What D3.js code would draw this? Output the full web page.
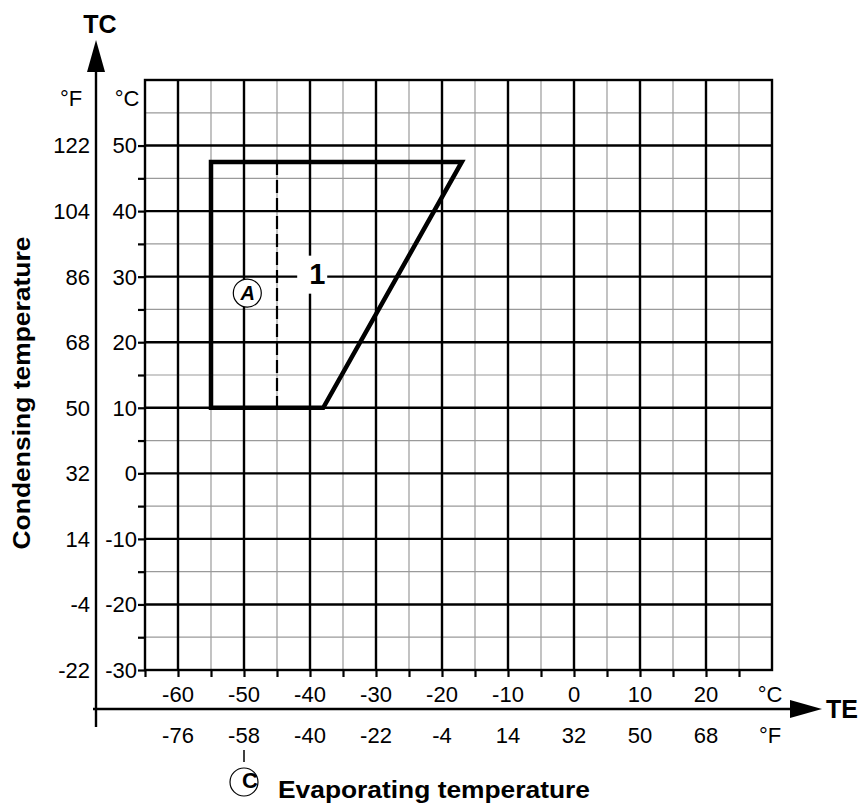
<!DOCTYPE html>
<html>
<head>
<meta charset="utf-8">
<script src="https://cdn.jsdelivr.net/npm/d3@7"></script>
<style>
  html, body { margin: 0; padding: 0; background: #fff; }
  svg { display: block; font-family: "Liberation Sans", Arial, Helvetica, sans-serif; }
</style>
</head>
<body>
<svg id="chart" width="865" height="807"></svg>
<script>
// Operating envelope: condensing vs evaporating temperature (°C)
const teDomain = [-65, 30];
const tcDomain = [-30, 60];

const teTicksC = [-60, -50, -40, -30, -20, -10, 0, 10, 20];
const teTicksF = ["-76", "-58", "-40", "-22", "-4", "14", "32", "50", "68"];
const tcTicksC = [-30, -20, -10, 0, 10, 20, 30, 40, 50];
const tcTicksF = ["-22", "-4", "14", "32", "50", "68", "86", "104", "122"];

// Envelope outline [TE, TC]
const envelope = [[-55, 47.5], [-17, 47.5], [-38, 10], [-55, 10]];
// Dashed limit A at TE = -45
const limitA = [[-45, 47.5], [-45, 10]];
const regionLabel = { text: "1", te: -38, tc: 30 };
const markerA = { te: -49.5, tc: 27.5 };

const svg = d3.select("#chart");
const x = d3.scaleLinear().domain(teDomain).range([145, 772]);
const y = d3.scaleLinear().domain(tcDomain).range([670, 80]);

const gGrid = svg.append("g");
const minorX = d3.range(-60, 30, 5).filter(v => v % 10 !== 0);
const majorX = d3.range(-60, 30, 10);
const minorY = d3.range(-25, 60, 5).filter(v => v % 10 !== 0);
const majorY = d3.range(-20, 60, 10);

// minor grid
gGrid.selectAll(".mx").data(minorX).join("line")
  .attr("x1", d => x(d)).attr("x2", d => x(d)).attr("y1", y(60)).attr("y2", y(-30))
  .attr("stroke", "#9a9a9a").attr("stroke-width", 1.2);
gGrid.selectAll(".my").data(minorY).join("line")
  .attr("x1", x(-65)).attr("x2", x(30)).attr("y1", d => y(d)).attr("y2", d => y(d))
  .attr("stroke", "#9a9a9a").attr("stroke-width", 1.2);
// major grid
gGrid.selectAll(".Mx").data(majorX).join("line")
  .attr("x1", d => x(d)).attr("x2", d => x(d)).attr("y1", y(60)).attr("y2", y(-30))
  .attr("stroke", "#000").attr("stroke-width", 2.4);
gGrid.selectAll(".My").data(majorY).join("line")
  .attr("x1", x(-65)).attr("x2", x(30)).attr("y1", d => y(d)).attr("y2", d => y(d))
  .attr("stroke", "#000").attr("stroke-width", 2.4);
// frame
gGrid.append("rect")
  .attr("x", x(-65)).attr("y", y(60))
  .attr("width", x(30) - x(-65)).attr("height", y(-30) - y(60))
  .attr("fill", "none").attr("stroke", "#000").attr("stroke-width", 2.4);

// axis ticks (every 5 °C)
const leftAxis = d3.axisLeft(y).tickValues(d3.range(-30, 51, 5)).tickSize(7).tickFormat("");
const gl = svg.append("g").attr("transform", `translate(${x(-65)},0)`).call(leftAxis);
const bottomAxis = d3.axisBottom(x).tickValues(d3.range(-65, 26, 5)).tickSize(7).tickFormat("");
const gb = svg.append("g").attr("transform", `translate(0,${y(-30)})`).call(bottomAxis);
[gl, gb].forEach(g => {
  g.select(".domain").remove();
  g.selectAll(".tick line").attr("stroke", "#000").attr("stroke-width", 2.2);
});

// tick labels
const lab = svg.append("g").attr("font-size", 22).attr("fill", "#000");
lab.selectAll(".yc").data(tcTicksC).join("text")
  .attr("x", 137).attr("y", d => y(d)).attr("dy", "0.36em")
  .attr("text-anchor", "end").text(d => d);
lab.selectAll(".yf").data(tcTicksF).join("text")
  .attr("x", 90).attr("y", (d, i) => y(tcTicksC[i])).attr("dy", "0.36em")
  .attr("text-anchor", "end").text(d => d);
lab.selectAll(".xc").data(teTicksC).join("text")
  .attr("x", d => x(d)).attr("y", 702)
  .attr("text-anchor", "middle").text(d => d);
lab.selectAll(".xf").data(teTicksF).join("text")
  .attr("x", (d, i) => x(teTicksC[i])).attr("y", 743)
  .attr("text-anchor", "middle").text(d => d);
// unit labels
lab.append("text").attr("x", 71).attr("y", 106).attr("text-anchor", "middle").text("°F");
lab.append("text").attr("x", 127).attr("y", 106).attr("text-anchor", "middle").text("°C");
lab.append("text").attr("x", 770).attr("y", 702).attr("text-anchor", "middle").text("°C");
lab.append("text").attr("x", 770).attr("y", 743).attr("text-anchor", "middle").text("°F");

// arrow axes
const axes = svg.append("g");
axes.append("line").attr("x1", 96).attr("x2", 96).attr("y1", 70).attr("y2", 727)
  .attr("stroke", "#000").attr("stroke-width", 2.4);
axes.append("path").attr("d", "M96,40 L87,72 L105,72 Z").attr("fill", "#000");
axes.append("line").attr("x1", 93).attr("x2", 792).attr("y1", 709).attr("y2", 709)
  .attr("stroke", "#000").attr("stroke-width", 2.4);
axes.append("path").attr("d", "M822,709 L790,700 L790,718 Z").attr("fill", "#000");
axes.append("text").attr("x", 100).attr("y", 33).attr("text-anchor", "middle")
  .attr("font-size", 25).attr("font-weight", "bold").text("TC");
axes.append("text").attr("x", 826).attr("y", 718)
  .attr("font-size", 25).attr("font-weight", "bold").text("TE");

// axis titles
svg.append("text")
  .attr("transform", "translate(30,393) rotate(-90)")
  .attr("text-anchor", "middle").attr("font-size", 23).attr("font-weight", "bold")
  .attr("textLength", 313).attr("lengthAdjust", "spacingAndGlyphs")
  .text("Condensing temperature");
svg.append("text")
  .attr("x", 278).attr("y", 798)
  .attr("font-size", 23).attr("font-weight", "bold")
  .attr("textLength", 312).attr("lengthAdjust", "spacingAndGlyphs")
  .text("Evaporating temperature");

// region label "1" with a white knockout
const lx = x(regionLabel.te) - 8, ly = y(regionLabel.tc);
svg.append("rect").attr("x", lx - 18).attr("y", ly - 21).attr("width", 30).attr("height", 38).attr("fill", "#fff");

// envelope
const line = d3.line().x(d => x(d[0])).y(d => y(d[1]));
svg.append("path").attr("d", line(envelope) + "Z")
  .attr("fill", "none").attr("stroke", "#000").attr("stroke-width", 4.5).attr("stroke-linejoin", "miter");
svg.append("path").attr("d", line(limitA))
  .attr("fill", "none").attr("stroke", "#000").attr("stroke-width", 2.2).attr("stroke-dasharray", "13,5");

svg.append("text").attr("x", lx + 2).attr("y", ly + 7).attr("text-anchor", "middle")
  .attr("font-size", 29).attr("font-weight", "bold").text(regionLabel.text);

// marker A
const ax = x(markerA.te), ay = y(markerA.tc);
svg.append("circle").attr("cx", ax).attr("cy", ay).attr("r", 14)
  .attr("fill", "#fff").attr("stroke", "#000").attr("stroke-width", 1.2);
svg.append("text").attr("x", ax + 0.5).attr("y", ay + 7).attr("text-anchor", "middle")
  .attr("font-size", 20).attr("font-weight", "bold").attr("font-style", "italic").text("A");

// marker C under the -58 °F label
const cx = x(-50);
svg.append("line").attr("x1", cx).attr("x2", cx).attr("y1", 750).attr("y2", 762)
  .attr("stroke", "#000").attr("stroke-width", 1.5);
svg.append("circle").attr("cx", cx).attr("cy", 782).attr("r", 14)
  .attr("fill", "#fff").attr("stroke", "#000").attr("stroke-width", 1.2);
svg.append("text").attr("x", cx + 6).attr("y", 788).attr("text-anchor", "middle")
  .attr("font-size", 22).attr("font-weight", "bold").text("C");
</script>
</body>
</html>
